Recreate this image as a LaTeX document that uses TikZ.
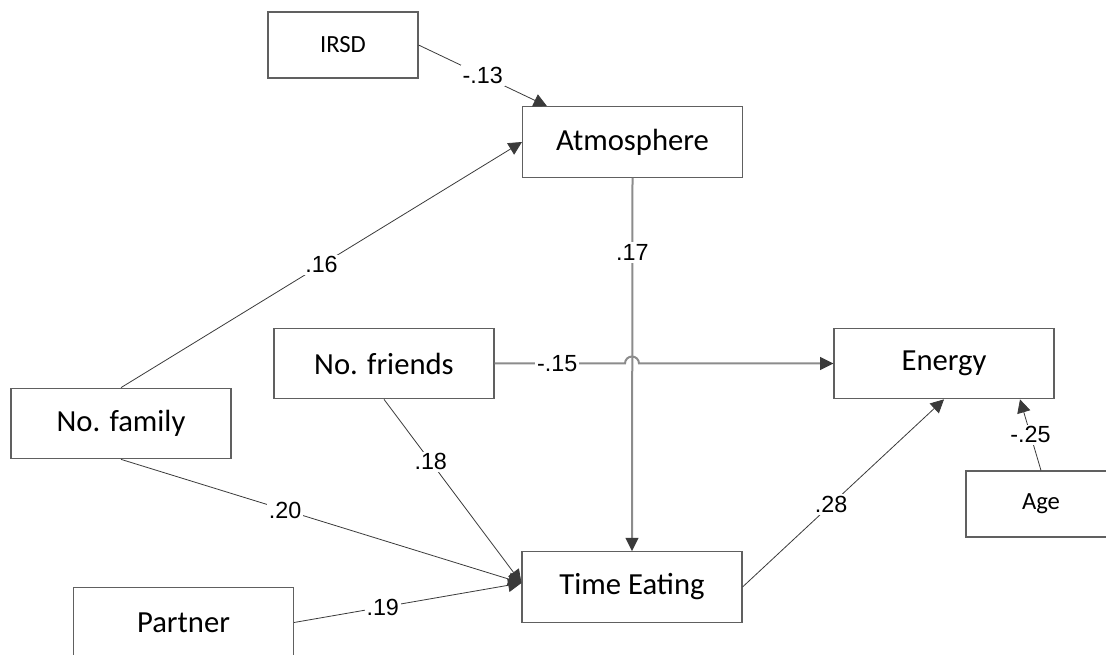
\documentclass[tikz,border=0pt]{standalone}
\usepackage{fontspec}
\setmainfont{Carlito}
\newfontfamily\numfont{Liberation Sans}
\usetikzlibrary{arrows.meta,calc}
\definecolor{boxline}{HTML}{606060}
\definecolor{thinline}{HTML}{474747}
\definecolor{thickline}{HTML}{8C8C8C}
\definecolor{tipcol}{HTML}{3A3A3A}
\tikzset{
  bigbox/.style={draw=boxline,line width=0.8pt,minimum width=165pt,minimum height=53pt,inner sep=0pt,font=\fontsize{23}{26}\selectfont},
  smallbox/.style={draw=boxline,line width=0.8pt,minimum width=112.5pt,minimum height=49.5pt,inner sep=0pt,font=\fontsize{18.5}{22}\selectfont},
  conn/.style={draw=thinline,line width=0.6pt,-{Triangle[length=10pt,width=10pt,fill=tipcol]},tipcol},
  thickconn/.style={draw=thickline,line width=1.5pt,-{Triangle[length=10pt,width=10pt,fill=tipcol,line width=0pt]}},
  coef/.style={fill=white,inner sep=1.5pt,text=black,font=\numfont\fontsize{17.5}{19}\selectfont}
}
\begin{document}
\begin{tikzpicture}[x=0.75pt,y=-0.75pt]
\useasboundingbox (0,0) rectangle (1106,655);
\node[smallbox] (irsd) at (343,45) {IRSD};
\node[bigbox] (atm) at (632.5,142) {Atmosphere};
\node[bigbox] (fr) at (384,363.5) {No. friends};
\node[bigbox] (en) at (944,363.5) {Energy};
\node[bigbox] (fam) at (121,423.5) {No. family};
\node[smallbox] (age) at (1041,504) {Age};
\node[bigbox] (te) at (632,587) {Time Eating};
\node[bigbox] (par) at (183.5,622.5) {Partner};

\draw[conn] (irsd.east) -- node[coef,pos=0.5] {-.13} ($(atm.north west)+(25,0)$);
\draw[conn] (fam.north) -- node[coef,pos=0.5] {.16} (atm.west);
\draw[thickconn] (atm.south) -- node[coef,pos=0.2] {.17} (te.north);
\coordinate (jump) at ($(fr.east -| te.north)+(-7,0)$);
\draw[thickconn] (fr.east) -- node[coef,pos=0.48] {-.15} (jump) arc[start angle=180,end angle=0,radius=5.25pt] -- (en.west);
\draw[conn] (fr.south) -- node[coef,pos=0.34] {.18} ($(te.west)+(0,-4)$);
\draw[conn] (fam.south) -- node[coef,pos=0.41] {.20} ($(te.west)+(0,-4)$);
\draw[conn] (par.east) -- node[coef,pos=0.39] {.19} ($(te.west)+(0,-4)$);
\draw[conn] (te.east) -- node[coef,pos=0.44] {.28} (en.south);
\draw[conn] (age.north) -- node[coef,pos=0.5] {-.25} ($(en.south)+(76,0)$);
\end{tikzpicture}
\end{document}
